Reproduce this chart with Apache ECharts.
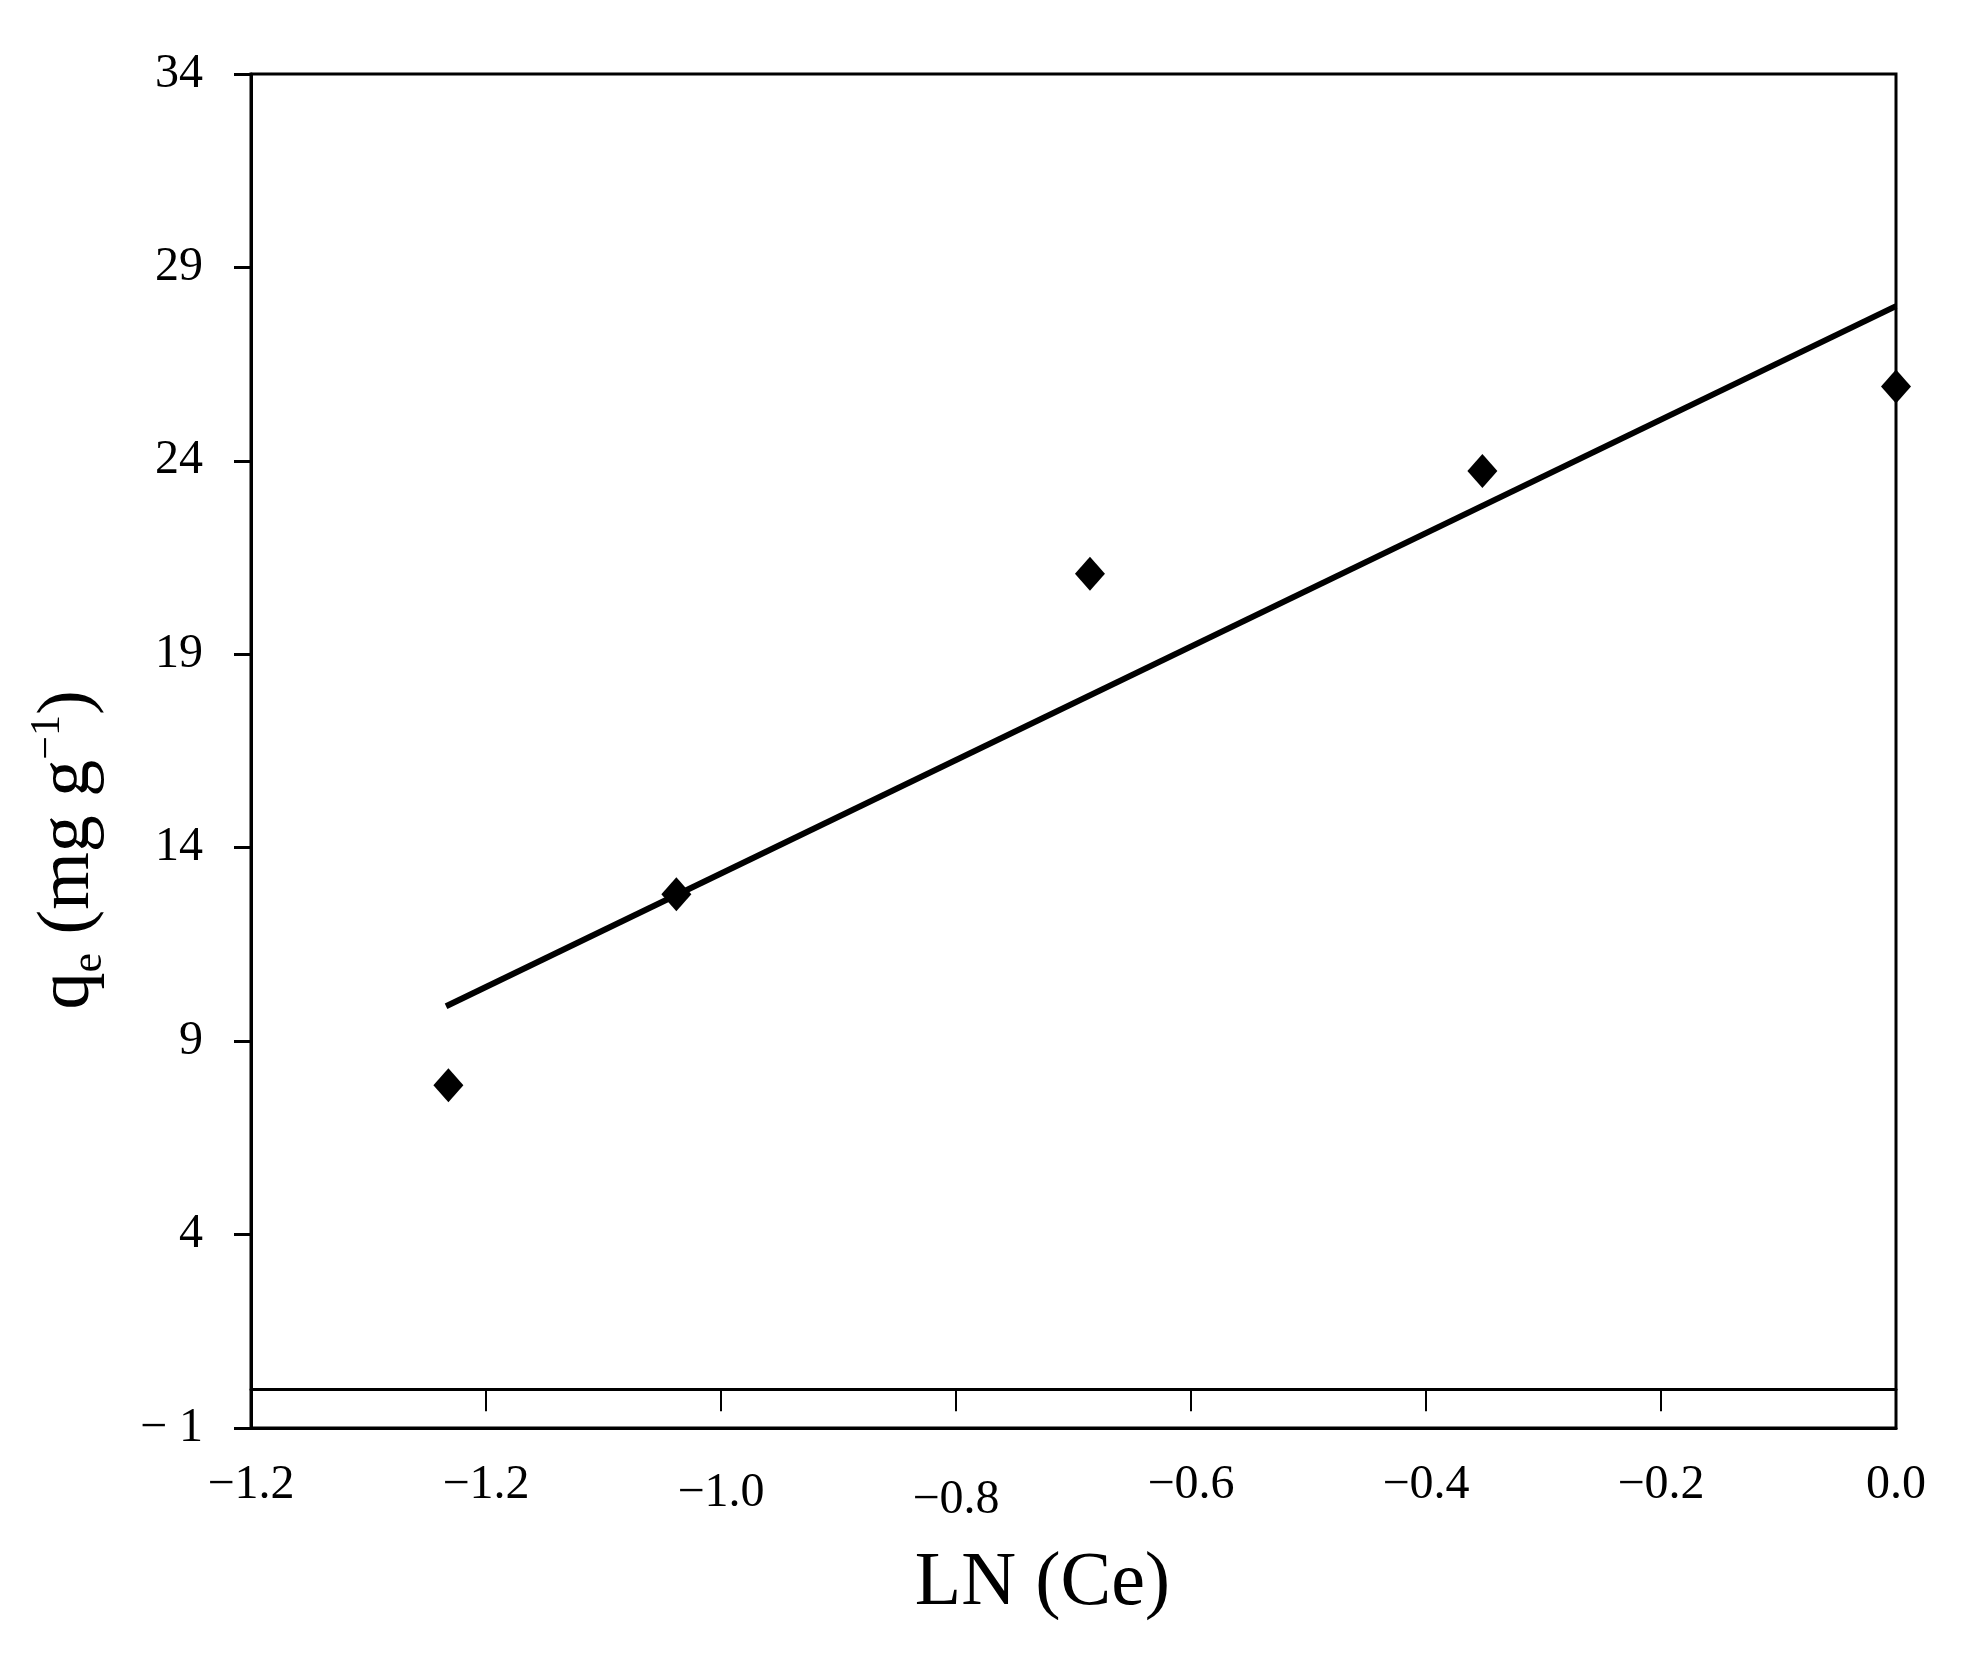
<!DOCTYPE html>
<html>
<head>
<meta charset="utf-8">
<script src="https://cdn.jsdelivr.net/npm/echarts@6/dist/echarts.min.js"></script>
<style>
  html, body { margin: 0; padding: 0; background: #fff; }
  #chart { width: 1968px; height: 1673px; }
</style>
</head>
<body>
<div id="chart"></div>
<script>
// Freundlich-type plot: qe vs LN(Ce)
var lnCe = [-1.232, -1.038, -0.686, -0.352, 0.0];
var qe = [7.86, 12.8, 21.08, 23.74, 25.92];

// fitted straight line, end points
var fitX = [-1.234, 0.0];
var fitY = [9.9, 28.0];

var xTicks = [-1.4, -1.2, -1.0, -0.8, -0.6, -0.4, -0.2, 0.0];
var xTickLabels = ['−1.2', '−1.2', '−1.0', '−0.8', '−0.6', '−0.4', '−0.2', '0.0'];
var yTicks = [-1, 4, 9, 14, 19, 24, 29, 34];
var yTickLabels = ['− 1', '4', '9', '14', '19', '24', '29', '34'];

(function () {
  var font = '"Liberation Serif", "DejaVu Serif", serif';
  var ink = '#000';

  var chart = echarts.init(document.getElementById('chart'), null, { renderer: 'canvas' });

  function nearestIndex(arr, v) {
    var best = 0;
    for (var i = 1; i < arr.length; i++) {
      if (Math.abs(arr[i] - v) < Math.abs(arr[best] - v)) best = i;
    }
    return best;
  }

  // a couple of x labels sit a little lower in the original
  var xDrop = { 2: 'd1', 3: 'd2' };

  var points = lnCe.map(function (x, i) { return [x, qe[i]]; });
  var fit = fitX.map(function (x, i) { return [x, fitY[i]]; });

  chart.setOption({
    animation: false,
    backgroundColor: '#fff',
    grid: {
      left: 251, right: 72, top: 74, bottom: 245,
      show: true, borderColor: ink, borderWidth: 3,
      containLabel: false, outerBoundsMode: 'none'
    },
    xAxis: [{
      type: 'value',
      min: -1.4, max: 0,
      position: 'bottom',
      axisLine: { onZero: false, lineStyle: { color: ink, width: 3 } },
      axisTick: { show: false },
      splitLine: { show: false },
      axisLabel: {
        customValues: xTicks,
        margin: 33,
        color: ink,
        fontFamily: font,
        fontSize: 48,
        formatter: function (v) {
          var i = nearestIndex(xTicks, v);
          return '{' + (xDrop[i] || 'd0') + '|' + xTickLabels[i] + '}';
        },
        rich: {
          d0: { fontFamily: font, fontSize: 48, color: ink },
          d1: { fontFamily: font, fontSize: 48, color: ink, padding: [8, 0, 0, 0] },
          d2: { fontFamily: font, fontSize: 48, color: ink, padding: [15, 0, 0, 0] }
        }
      },
      name: 'LN (Ce)',
      nameLocation: 'middle',
      nameGap: 118,
      nameTextStyle: { fontFamily: font, fontSize: 76, color: ink, padding: [0, 62, 0, 0] }
    }, {
      // the line through y = 0 carrying the tick marks
      type: 'value',
      min: -1.4, max: 0,
      position: 'bottom',
      axisLine: { onZero: true, lineStyle: { color: ink, width: 3 } },
      axisTick: { show: true, customValues: xTicks, length: 22, lineStyle: { color: ink, width: 2 } },
      axisLabel: { show: false },
      splitLine: { show: false }
    }],
    yAxis: {
      type: 'value',
      min: -1, max: 34,
      position: 'left',
      axisLine: { onZero: false, lineStyle: { color: ink, width: 3 } },
      axisTick: { show: true, customValues: yTicks, length: 17, lineStyle: { color: ink, width: 3 } },
      splitLine: { show: false },
      axisLabel: {
        customValues: yTicks,
        margin: 48,
        color: ink,
        fontFamily: font,
        fontSize: 48,
        padding: [0, 0, 14, 0],
        formatter: function (v) { return yTickLabels[nearestIndex(yTicks, v)]; }
      },
      name: '{a|q}{sub|e}{a| (mg g}{sup|−1}{a|)}',
      nameLocation: 'middle',
      nameRotate: 90,
      nameGap: 140,
      nameTextStyle: {
        fontFamily: font, fontSize: 74, color: ink,
        padding: [0, 198, 0, 0],
        rich: {
          a: { fontFamily: font, fontSize: 74, color: ink, lineHeight: 84 },
          sub: { fontFamily: font, fontSize: 44, color: ink, verticalAlign: 'bottom', lineHeight: 44 },
          sup: { fontFamily: font, fontSize: 42, color: ink, verticalAlign: 'top', lineHeight: 42 }
        }
      }
    },
    series: [{
      name: 'fit',
      type: 'line',
      data: fit,
      symbol: 'none',
      lineStyle: { color: ink, width: 6 },
      z: 3
    }, {
      name: 'qe',
      type: 'scatter',
      data: points,
      symbol: 'diamond',
      symbolSize: [30, 34],
      itemStyle: { color: ink, opacity: 1 },
      clip: false,
      z: 4
    }]
  });

  window.addEventListener('resize', function () { chart.resize(); });
})();
</script>
</body>
</html>
